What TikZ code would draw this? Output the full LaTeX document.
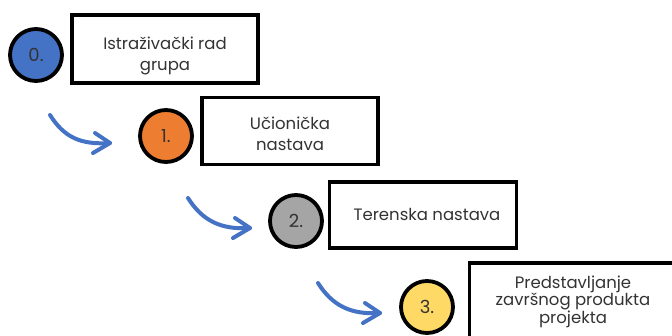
\documentclass[tikz,border=0pt]{standalone}
\usepackage{fontspec}
\setmainfont{Poppins}
\usetikzlibrary{arrows.meta,calc}
\definecolor{cblue}{HTML}{4472C4}
\definecolor{corange}{HTML}{ED7D31}
\definecolor{cgray}{HTML}{A5A5A5}
\definecolor{cyellow}{HTML}{FFD966}
\definecolor{carrow}{HTML}{4472C4}
\definecolor{ctext}{HTML}{333333}
\tikzset{
  stepcircle/.style={circle, draw=black, line width=3.8pt, minimum size=52pt, inner sep=0pt, text=ctext, font=\fontsize{18}{18}\selectfont},
  stepbox/.style={draw=black, line width=3.3pt, fill=white, inner sep=0pt},
  steptext/.style={align=center, text=ctext, font=\fontsize{16.5}{20.5}\selectfont},
  flow/.style={draw=carrow, line width=4pt, line cap=round, line join=round},
}
\begin{document}
\begin{tikzpicture}[x=1pt,y=-1pt]
\useasboundingbox (0,0) rectangle (672,335);
\fill[white] (0,0) rectangle (672,335);
\clip (0,0) rectangle (672,335);
% step 0
\node[stepcircle, fill=cblue] (c0) at (36,55) {0.};
\node[stepbox, minimum width=186pt, minimum height=68pt] (b0) at (165,49) {};
\node[steptext] (t0) at (165,56) {Istraživački rad\\grupa};
% step 1
\node[stepcircle, fill=corange] (c1) at (166,136) {1.};
\node[stepbox, minimum width=176pt, minimum height=67pt] (b1) at (290,131) {};
\node[steptext] (t1) at (290,134) {Učionička\\nastava};
% step 2
\node[stepcircle, fill=cgray] (c2) at (296,221) {2.};
\node[stepbox, minimum width=187pt, minimum height=66pt] (b2) at (423,215) {};
\node[steptext] (t2) at (427,214) {Terenska nastava};
% step 3
\node[stepcircle, fill=cyellow] (c3) at (427,307) {3.};
\node[stepbox, minimum width=215pt, minimum height=100pt] (b3) at (577,313) {};
\node[steptext, font=\fontsize{16.5}{17}\selectfont] (t3) at (573,302) {Predstavljanje\\završnog produkta\\projekta};
% arrows
\coordinate (a0s) at (50,115);
\coordinate (a0e) at (110,143);
\coordinate (a1s) at (188,198);
\coordinate (a1e) at (250,228);
\coordinate (a2s) at (318,283);
\coordinate (a2e) at (380,313);
\foreach \s/\e in {a0s/a0e, a1s/a1e, a2s/a2e}{
  \draw[flow] (\s) .. controls ($(\s)+(14,22)$) and ($(\e)+(-30,2)$) .. (\e);
  \draw[flow] ($(\e)+(-15,-10)$) -- (\e) -- ($(\e)+(-17,10)$);
}
\end{tikzpicture}
\end{document}
